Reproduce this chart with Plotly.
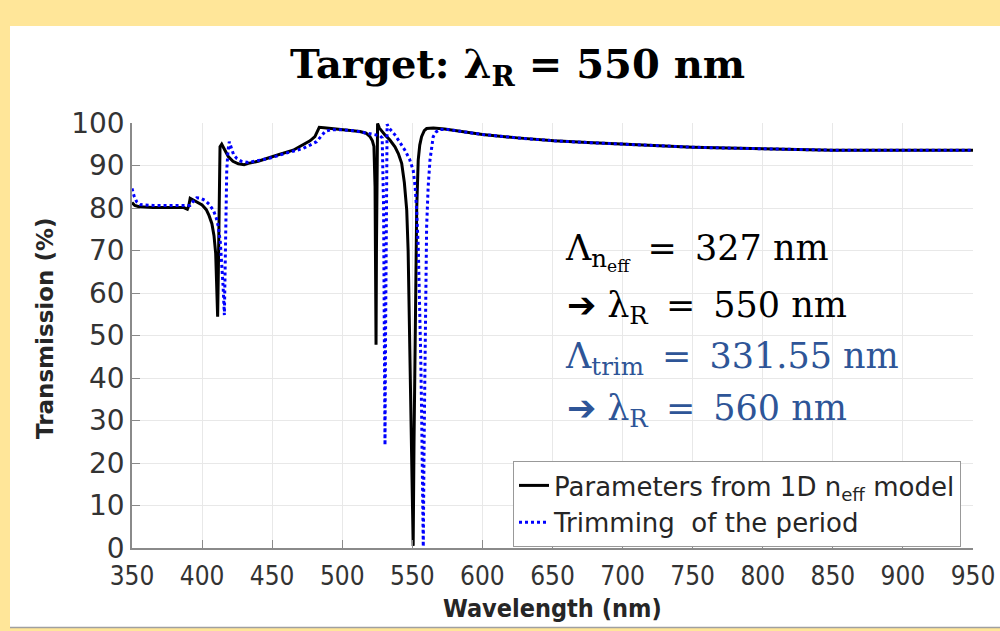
import plotly.graph_objects as go

# ---- data ----
wl_model = [350, 352, 355, 365, 380, 387, 389.5, 390.5, 391.5, 393, 397, 400, 403, 405, 407,
            408.5, 409.7, 410.5, 411.1, 411.6, 412.2, 412.8, 414, 416, 418.7, 422, 425.8, 430,
            433, 440, 446, 455, 465, 472, 477, 480.5, 482.5, 483.6, 487, 496, 505, 512.6, 517,
            519.8, 521.5, 522.6, 523.4, 523.8, 524.1, 524.4, 524.8, 525.2, 526.5, 528.5, 530.5,
            534, 537.6, 540, 542.4, 544.3, 546, 547, 547.6, 548.3, 549, 549.8, 550.6, 551.2,
            551.9, 552.5, 553.1, 554.2, 555.3, 556.6, 558.5, 560.2, 565, 573, 585, 600, 625,
            651, 675, 700, 725, 750, 775, 801, 825, 850, 900, 950]
t_model = [81.3, 80.6, 80.3, 80.1, 80.1, 80.1, 79.7, 80.5, 82.3, 82.0, 81.3, 80.7, 79.6, 78.2,
           76.3, 73.5, 69.3, 63.0, 54.4, 65.0, 82.0, 94.4, 95.0, 93.6, 92.1, 91.0, 90.4, 90.2,
           90.5, 91.0, 91.7, 92.6, 93.6, 94.8, 95.8, 96.8, 98.3, 99.0, 98.9, 98.6, 98.3, 98.0,
           97.6, 96.8, 95.8, 94.5, 85.0, 60.0, 47.8, 70.0, 92.0, 99.9, 98.8, 97.9, 97.2, 96.0,
           94.4, 92.8, 90.5, 86.0, 79.5, 70.0, 59.9, 46.0, 32.5, 15.0, 0.5, 25.0, 48.2, 68.0,
           79.5, 91.3, 94.8, 96.8, 98.2, 98.7, 98.8, 98.6, 98.0, 97.3, 96.5, 95.8, 95.4, 95.0,
           94.6, 94.3, 94.1, 93.9, 93.7, 93.6, 93.6, 93.6]

wl_trim = [350, 351.5, 353.3, 356, 365, 380, 391.4, 393.5, 396.1, 399, 402, 405, 408, 410,
           411.6, 413, 414, 415, 415.9, 416.5, 417, 417.6, 418.5, 419.4, 421, 422.5, 424.7,
           428, 433, 440, 448, 460, 472, 477, 481.7, 485, 487.7, 492, 500, 510, 515, 520,
           524.5, 527, 528.5, 529.5, 530.2, 530.5, 530.9, 531.4, 532, 533.5, 537.6, 541,
           544.7, 548, 550.6, 552, 553.1, 554.3, 555.4, 556, 556.6, 557.2, 557.8, 558.4, 559,
           559.6, 560.2, 561.3, 562.6, 564.9, 567, 569.7, 575, 585, 600, 625, 651, 675, 700,
           725, 750, 775, 801, 825, 850, 900, 950]
t_trim = [84.6, 82.8, 81.5, 80.8, 80.6, 80.6, 80.6, 81.5, 82.4, 82.3, 81.8, 80.9, 79.5, 77.8,
          75.6, 72.0, 67.8, 61.5, 54.8, 65.0, 78.0, 88.9, 93.5, 95.6, 94.0, 92.5, 91.7, 91.0,
          90.7, 91.1, 91.7, 92.9, 94.0, 94.8, 95.6, 96.9, 98.0, 98.4, 98.4, 98.1, 97.8, 97.5,
          97.2, 97.0, 96.5, 80.0, 40.0, 24.2, 50.0, 85.0, 99.7, 98.8, 97.2, 95.5, 93.6, 91.5,
          88.9, 85.0, 79.5, 70.0, 56.0, 45.0, 32.5, 16.0, 0.3, 25.0, 48.2, 64.0, 75.6, 85.0,
          91.3, 96.8, 97.9, 98.5, 98.5, 98.0, 97.3, 96.5, 95.8, 95.4, 95.0, 94.6, 94.3, 94.1,
          93.9, 93.7, 93.6, 93.6, 93.6]

x_ticks = list(range(350, 951, 50))
y_ticks = list(range(0, 101, 10))

name_model = "Parameters from 1D n<sub>eff</sub> model"
name_trim = "Trimming  of the period"

# ---- figure ----
W, H = 1000, 631
L, R, T, B = 132, 27, 123, 83
pw, ph = W - L - R, H - T - B

def px(xp):
    return (xp - L) / pw

def py(yp):
    return (H - B - yp) / ph

fig = go.Figure()
fig.add_trace(go.Scatter(x=wl_model, y=t_model, mode="lines", name=name_model,
                         line=dict(color="black", width=3)))
fig.add_trace(go.Scatter(x=wl_trim, y=t_trim, mode="lines", name=name_trim,
                         line=dict(color="#0000FF", width=3, dash="dot")))

shapes = [
    dict(type="rect", xref="paper", yref="paper", x0=px(10), x1=px(1002), y0=py(627), y1=py(26),
         fillcolor="white", line=dict(width=0), layer="below"),
    dict(type="line", xref="paper", yref="paper", x0=px(10), x1=px(1002), y0=py(627.5), y1=py(627.5),
         line=dict(color="#a0a0a0", width=1.5)),
]

serif = "DejaVu Serif, Liberation Serif, serif"
sans = "DejaVu Sans, Noto Sans, sans-serif"
blue_txt = "#2E5597"
sp = "\u2009"

annotations = [
    dict(text="<b>Target: λ<sub>R</sub> = 550 nm</b>", x=px(517), y=py(66), xref="paper", yref="paper",
         showarrow=False, xanchor="center", yanchor="middle",
         font=dict(family=serif, size=40, color="black")),
    dict(text="<b>Transmission (%)</b>", x=px(45), y=py(329), xref="paper", yref="paper",
         showarrow=False, textangle=-90, xanchor="center", yanchor="middle",
         font=dict(family=sans, size=23, color="#262626")),
    dict(text="<b>Wavelength (nm)</b>", x=px(552), y=py(608), xref="paper", yref="paper",
         showarrow=False, xanchor="center", yanchor="middle",
         font=dict(family="DejaVu Sans Condensed, DejaVu Sans, sans-serif", size=25, color="#262626")),
    dict(text="Λ<sub>n<sub>eff</sub></sub>" + sp + " = " + sp + "327 nm", x=px(563), y=py(252),
         xref="paper", yref="paper", showarrow=False, xanchor="left", yanchor="middle",
         font=dict(family=serif, size=35, color="black")),
    dict(text="➔ λ<sub>R</sub>" + sp + " = " + sp + "550 nm", x=px(565), y=py(307),
         xref="paper", yref="paper", showarrow=False, xanchor="left", yanchor="middle",
         font=dict(family=serif, size=35, color="black")),
    dict(text="Λ<sub>trim</sub>" + sp + " = " + sp + "331.55 nm", x=px(563), y=py(358),
         xref="paper", yref="paper", showarrow=False, xanchor="left", yanchor="middle",
         font=dict(family=serif, size=35, color=blue_txt)),
    dict(text="➔ λ<sub>R</sub>" + sp + " = " + sp + "560 nm", x=px(565), y=py(410),
         xref="paper", yref="paper", showarrow=False, xanchor="left", yanchor="middle",
         font=dict(family=serif, size=35, color=blue_txt)),
]

fig.update_layout(
    width=W, height=H,
    margin=dict(l=L, r=R, t=T, b=B, autoexpand=False),
    paper_bgcolor="#FFE699",
    plot_bgcolor="white",
    shapes=shapes,
    annotations=annotations,
    showlegend=True,
    legend=dict(x=px(513), y=py(461), xanchor="left", yanchor="top",
                bgcolor="white", bordercolor="#999999", borderwidth=1,
                font=dict(family=sans, size=26, color="#262626"),
                tracegroupgap=0, itemwidth=30),
    xaxis=dict(range=[350, 950], tickmode="array", tickvals=x_ticks,
               ticktext=[str(v) for v in x_ticks],
               showgrid=True, gridcolor="#e8e8e8", gridwidth=1,
               zeroline=False, showline=True, linecolor="#8a8a8a", linewidth=1.5,
               ticks="inside", ticklen=8, tickcolor="#8a8a8a", ticklabelstandoff=4,
               tickfont=dict(family="DejaVu Sans Condensed, DejaVu Sans, sans-serif", size=26, color="#333333"),
               mirror=False),
    yaxis=dict(range=[0, 100], tickmode="array", tickvals=y_ticks,
               ticktext=[str(v) for v in y_ticks],
               showgrid=True, gridcolor="#e8e8e8", gridwidth=1,
               zeroline=False, showline=True, linecolor="#8a8a8a", linewidth=1.5,
               ticks="inside", ticklen=8, tickcolor="#8a8a8a",
               tickfont=dict(family=sans, size=28, color="#333333"),
               mirror=False),
)

fig.write_html(
    "out.html",
    config={"displayModeBar": False},
    post_script=["document.body.style.margin='0';document.body.style.overflow='hidden';"
                 "document.body.style.background='#FFE699';"],
)
